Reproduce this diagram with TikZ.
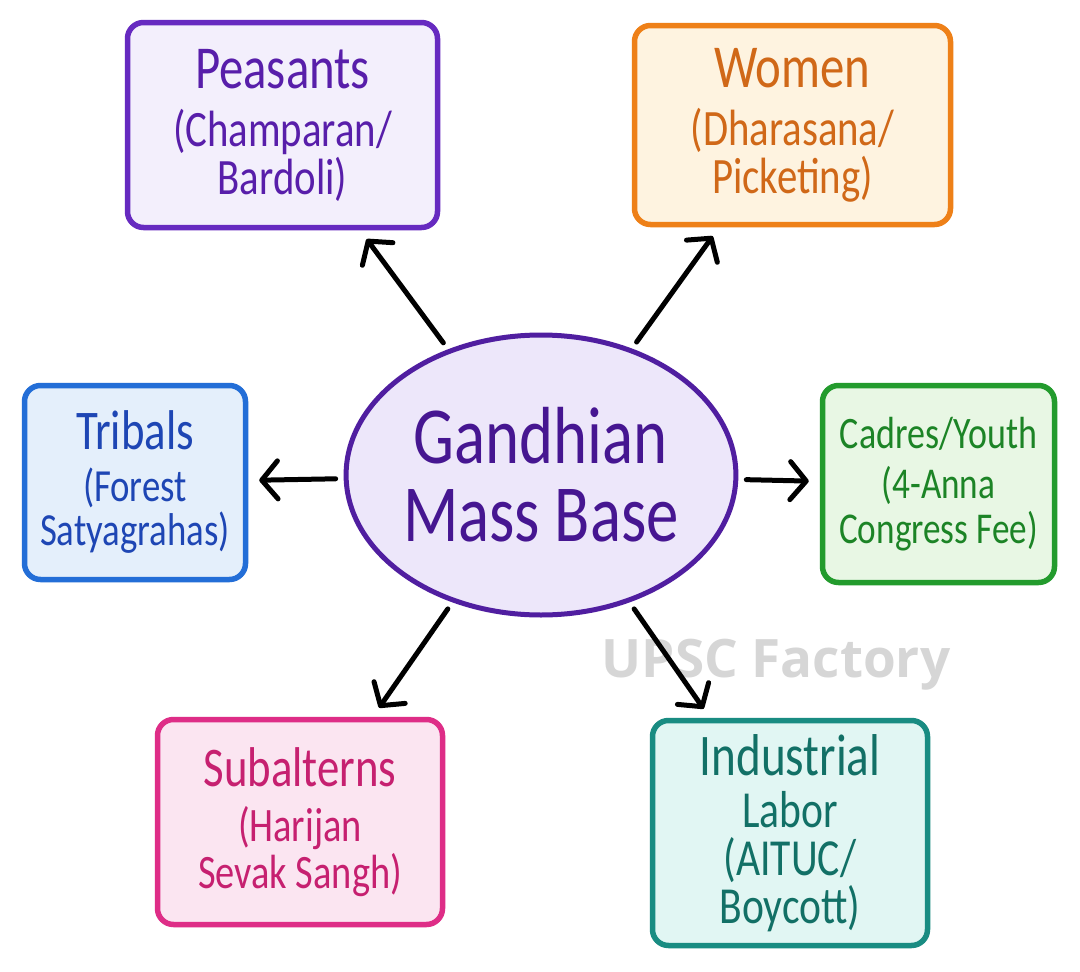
\documentclass[tikz,border=0pt]{standalone}
\usepackage{fontspec}
\setmainfont{Carlito}[FakeStretch=0.8]
\newfontfamily\wmfont{Open Sans}
\usetikzlibrary{shapes.geometric,arrows.meta}

\definecolor{pplline}{RGB}{102,42,192}
\definecolor{ppltext}{RGB}{88,30,170}
\definecolor{pplfill}{RGB}{243,239,252}
\definecolor{orgline}{RGB}{238,128,24}
\definecolor{orgtext}{RGB}{208,104,24}
\definecolor{orgfill}{RGB}{254,243,224}
\definecolor{bluline}{RGB}{35,110,215}
\definecolor{blutext}{RGB}{30,70,180}
\definecolor{blufill}{RGB}{228,239,251}
\definecolor{grnline}{RGB}{35,155,45}
\definecolor{grntext}{RGB}{28,132,38}
\definecolor{grnfill}{RGB}{232,247,228}
\definecolor{pnkline}{RGB}{222,45,135}
\definecolor{pnktext}{RGB}{198,32,112}
\definecolor{pnkfill}{RGB}{251,229,241}
\definecolor{tealline}{RGB}{25,140,130}
\definecolor{tealtext}{RGB}{18,112,102}
\definecolor{tealfill}{RGB}{225,246,243}
\definecolor{massline}{RGB}{80,30,160}
\definecolor{masstext}{RGB}{70,22,145}
\definecolor{massfill}{RGB}{237,231,250}
\definecolor{wmgray}{RGB}{214,214,214}

\newcommand{\fs}[2]{\fontsize{#1}{#2}\selectfont}

\begin{document}
\begin{tikzpicture}[x=1pt, y=-1pt,
  box/.style={draw, rounded corners=16pt, line width=5.5pt, align=center, inner sep=0pt},
  arr/.style={line width=5pt, line cap=round, -{Straight Barb[round,length=16pt,width=38pt]}, shorten <=8pt, shorten >=11pt}]
\useasboundingbox[fill=white] (0,0) rectangle (1080,972);

% centre
\node[ellipse, draw=massline, fill=massfill, text=masstext, line width=5pt, minimum width=372pt, minimum height=280pt, inner sep=0pt, align=center, font=\fs{81}{78}] (mass) at (541,475) {Gandhian\\Mass Base};

% groups round it
\node[box, draw=pplline, fill=pplfill, text=ppltext, minimum width=310pt, minimum height=205pt, font=\fs{51}{48}] (peasants) at (282.5,125) {{\fs{61}{61}Peasants}\\[10pt](Champaran/\\Bardoli)};
\node[box, draw=orgline, fill=orgfill, text=orgtext, minimum width=316pt, minimum height=199pt, font=\fs{51}{48}] (women) at (792.5,125) {{\fs{61}{61}Women}\\[10pt](Dharasana/\\Picketing)};
\node[box, draw=bluline, fill=blufill, text=blutext, minimum width=221pt, minimum height=194pt, font=\fs{46}{44}] (tribals) at (135,482.5) {{\fs{56}{56}Tribals}\\[8pt](Forest\\Satyagrahas)};
\node[box, draw=grnline, fill=grnfill, text=grntext, minimum width=232pt, minimum height=197pt, font=\fs{44}{45}] (cadres) at (938.5,484) {{\fs{45}{45}Cadres/Youth}\\[5pt](4-Anna\\Congress Fee)};
\node[box, draw=pnkline, fill=pnkfill, text=pnktext, minimum width=285pt, minimum height=205pt, font=\fs{48}{47}] (subalterns) at (300,822) {{\fs{56}{56}Subalterns}\\[8pt](Harijan\\Sevak Sangh)};
\node[box, draw=tealline, fill=tealfill, text=tealtext, minimum width=275pt, minimum height=225pt, font=\fs{52}{48}] (labor) at (790,833) {{\fs{59}{59}Industrial}\\[4pt]Labor\\(AITUC/\\Boycott)};

% watermark
\node[font=\wmfont\bfseries\fontsize{53}{53}\selectfont, text=wmgray, anchor=base] (wm) at (776,677) {UPSC Factory};

% arrows
\draw[arr] (mass) -- (peasants);
\draw[arr] (mass) -- (women);
\draw[arr] (mass) -- (tribals);
\draw[arr] (mass) -- (cadres);
\draw[arr] (mass) -- (subalterns);
\draw[arr] (mass) -- (labor);

\end{tikzpicture}
\end{document}
